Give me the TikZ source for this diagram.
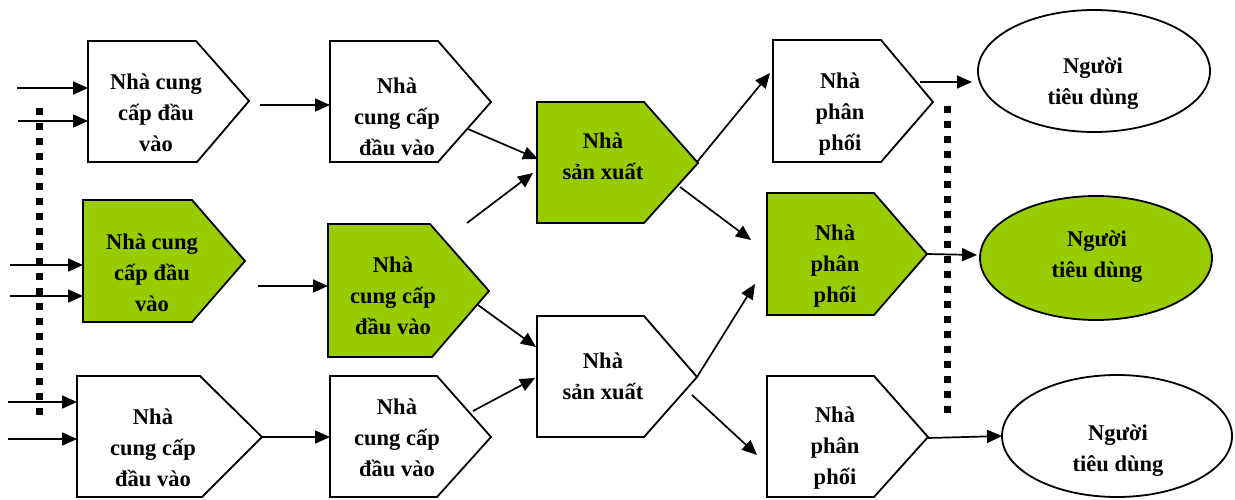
\documentclass[tikz,border=0pt]{standalone}
\usepackage{fontspec}
\setmainfont{Liberation Serif}
\usetikzlibrary{arrows.meta,shapes.geometric}
\definecolor{leaf}{RGB}{153,204,0}
\begin{document}
\begin{tikzpicture}[x=1pt,y=-1pt,
  box/.style={draw=black,line width=1.8pt,line join=miter,fill=white},
  greenbox/.style={box,fill=leaf},
  oval/.style={ellipse,draw=black,line width=1.8pt,inner sep=0pt},
  txt/.style={align=center,inner sep=0pt,font=\bfseries\fontsize{22.5}{31}\selectfont},
  link/.style={line width=1.7pt,-{Triangle[length=15pt,width=13pt]}},
  dots/.style={line width=7pt,dash pattern=on 7pt off 8pt}]
\useasboundingbox (0,0) rectangle (1235,499);

% --- input suppliers (first tier) ---
\draw[box]      (88,41) -- (196,41) -- (249,101) -- (197,162) -- (88,162) -- cycle;
\draw[greenbox] (83,200) -- (192,200) -- (245,261) -- (192,322) -- (83,322) -- cycle;
\draw[box]      (77,376) -- (200,376) -- (262,437) -- (202,497) -- (77,497) -- cycle;
\node[txt] (a1) at (156,113) {Nhà cung\\cấp đầu\\vào};
\node[txt] (a2) at (152,273) {Nhà cung\\cấp đầu\\vào};
\node[txt] (a3) at (153,448) {Nhà\\cung cấp\\đầu vào};

% --- input suppliers (second tier) ---
\draw[box]      (330,41) -- (438,41) -- (491,102) -- (438,162) -- (330,162) -- cycle;
\draw[greenbox] (328,224) -- (430,224) -- (489,291) -- (432,357) -- (328,357) -- cycle;
\draw[box]      (330,376) -- (437,376) -- (491,437) -- (437,497) -- (330,497) -- cycle;
\node[txt] (b1) at (397,117) {Nhà\\cung cấp\\đầu vào};
\node[txt] (b2) at (393,296) {Nhà\\cung cấp\\đầu vào};
\node[txt] (b3) at (397,438) {Nhà\\cung cấp\\đầu vào};

% --- producers ---
\draw[greenbox] (537,102) -- (644,102) -- (698,163) -- (644,223) -- (537,223) -- cycle;
\draw[box]      (537,316) -- (644,316) -- (697,377) -- (644,437) -- (537,437) -- cycle;
\node[txt] (c1) at (603,156) {Nhà\\sản xuất};
\node[txt] (c2) at (603,376) {Nhà\\sản xuất};

% --- distributors ---
\draw[box]      (773,40) -- (881,40) -- (933,102) -- (881,162) -- (773,162) -- cycle;
\draw[greenbox] (767,193) -- (874,193) -- (927,254) -- (874,315) -- (767,315) -- cycle;
\draw[box]      (767,376) -- (874,376) -- (928,437) -- (874,497) -- (767,497) -- cycle;
\node[txt] (d1) at (840,114) {Nhà\\phân\\phối};
\node[txt] (d2) at (835,266) {Nhà\\phân\\phối};
\node[txt] (d3) at (835,448) {Nhà\\phân\\phối};

% --- consumers ---
\node[oval,minimum width=232pt,minimum height=122pt] (e1) at (1094,71) {};
\node[oval,fill=leaf,minimum width=232pt,minimum height=124pt] (e2) at (1096,258) {};
\node[oval,minimum width=230pt,minimum height=122pt] (e3) at (1117,436) {};
\node[txt] (e1t) at (1093,84) {Người\\tiêu dùng};
\node[txt] (e2t) at (1097,257) {Người\\tiêu dùng};
\node[txt] (e3t) at (1118,451) {Người\\tiêu dùng};

% --- boundary lines ---
\coordinate (lt) at (39,108);  \coordinate (lb) at (39,420);
\coordinate (rt) at (947,106); \coordinate (rb) at (947,417);
\draw[dots] (lt) -- (lb);
\draw[dots] (rt) -- (rb);

% --- connector end points ---
\coordinate (i1) at (17,88);   \coordinate (a1i1) at (88,88);
\coordinate (i2) at (18,121);  \coordinate (a1i2) at (88,121);
\coordinate (i3) at (10,265);  \coordinate (a2i1) at (83,265);
\coordinate (i4) at (10,296);  \coordinate (a2i2) at (83,296);
\coordinate (i5) at (8,402);   \coordinate (a3i1) at (77,402);
\coordinate (i6) at (8,439);   \coordinate (a3i2) at (77,439);
\coordinate (a1o) at (260,105); \coordinate (b1i) at (330,105);
\coordinate (a2o) at (258,286); \coordinate (b2i) at (328,286);
\coordinate (a3o) at (262,437); \coordinate (b3i) at (330,437);
\coordinate (b1o) at (468,129); \coordinate (c1i1) at (538,159);
\coordinate (b2o1) at (467,223); \coordinate (c1i2) at (533,173);
\coordinate (b2o2) at (478,305); \coordinate (c2i1) at (536,347);
\coordinate (b3o) at (473,411); \coordinate (c2i2) at (535,378);
\coordinate (c1o1) at (697,162); \coordinate (d1i) at (770,73);
\coordinate (c1o2) at (680,187); \coordinate (d2i1) at (751,240);
\coordinate (c2o1) at (697,377); \coordinate (d2i2) at (755,284);
\coordinate (c2o2) at (692,395); \coordinate (d3i) at (757,455);
\coordinate (d1o) at (920,82);  \coordinate (e1i) at (972,82);
\coordinate (d2o) at (927,254); \coordinate (e2i) at (977,255);
\coordinate (d3o) at (928,438); \coordinate (e3i) at (1002,436);

% --- connectors ---
\draw[link] (i1) -- (a1i1);
\draw[link] (i2) -- (a1i2);
\draw[link] (i3) -- (a2i1);
\draw[link] (i4) -- (a2i2);
\draw[link] (i5) -- (a3i1);
\draw[link] (i6) -- (a3i2);
\draw[link] (a1o) -- (b1i);
\draw[link] (a2o) -- (b2i);
\draw[link] (a3o) -- (b3i);
\draw[link] (b1o) -- (c1i1);
\draw[link] (b2o1) -- (c1i2);
\draw[link] (b2o2) -- (c2i1);
\draw[link] (b3o) -- (c2i2);
\draw[link] (c1o1) -- (d1i);
\draw[link] (c1o2) -- (d2i1);
\draw[link] (c2o1) -- (d2i2);
\draw[link] (c2o2) -- (d3i);
\draw[link] (d1o) -- (e1i);
\draw[link] (d2o) -- (e2i);
\draw[link] (d3o) -- (e3i);
\end{tikzpicture}
\end{document}
